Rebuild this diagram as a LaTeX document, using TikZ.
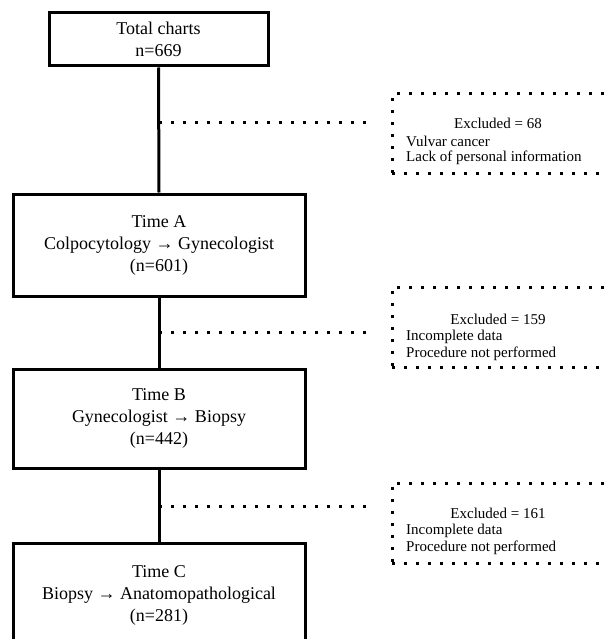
\documentclass[tikz,border=0pt]{standalone}
\usepackage{fontspec}
\setmainfont{Liberation Serif}
\begin{document}
\begin{tikzpicture}[x=1pt,y=-1pt,
  mainbox/.style={draw=black,line width=3pt,minimum width=292pt,align=center,
    font=\fontsize{18}{22}\selectfont,inner sep=0pt},
  link/.style={line width=3pt},
  dotline/.style={line width=3pt,dash pattern=on 3pt off 9pt},
  exbox/.style={draw=black,line width=3pt,dash pattern=on 3pt off 9pt,
    minimum width=240pt,inner sep=0pt},
  exhead/.style={font=\fontsize{15}{18}\selectfont,inner sep=0pt},
  exitem/.style={font=\fontsize{15}{18}\selectfont,inner sep=0pt,anchor=west}]
\useasboundingbox (0,0) rectangle (606,639);
\clip (0,0) rectangle (606,639);

% main boxes
\node[mainbox,minimum width=219pt,minimum height=53pt] (total) at (158.5,39.5) {Total charts\\n=669};
\node[mainbox,minimum height=102pt] (timeA) at (159,245) {Time A\\Colpocytology → Gynecologist\\(n=601)};
\node[mainbox,minimum height=99pt] (timeB) at (159,418.5) {Time B\\Gynecologist → Biopsy\\(n=442)};
\node[mainbox,minimum height=104pt] (timeC) at (159,595) {Time C\\Biopsy → Anatomopathological\\(n=281)};

% vertical connectors
\draw[link] (total.south) -- (timeA.north);
\draw[link] (timeA.south) -- (timeB.north);
\draw[link] (timeB.south) -- (timeC.north);

% dotted side connectors
\coordinate (j1) at (159,123);
\coordinate (e1) at (370,123);
\coordinate (j2) at (159,332);
\coordinate (e2) at (370,332);
\coordinate (j3) at (159,506);
\coordinate (e3) at (370,506);
\draw[dotline] (j1) -- (e1);
\draw[dotline] (j2) -- (e2);
\draw[dotline] (j3) -- (e3);

% excluded boxes
\node[exbox,minimum height=80pt] (ex1) at (512,134) {};
\node[exbox,minimum height=80pt] (ex2) at (512,327) {};
\node[exbox,minimum height=80pt] (ex3) at (512,523) {};

\node[exhead] (ex1h) at (498,123) {Excluded = 68};
\node[exitem] (ex1a) at (406,141) {Vulvar cancer};
\node[exitem] (ex1b) at (406,158) {Lack of personal information};

\node[exhead] (ex2h) at (498,319) {Excluded = 159};
\node[exitem] (ex2a) at (406,337) {Incomplete data};
\node[exitem] (ex2b) at (406,354) {Procedure not performed};

\node[exhead] (ex3h) at (498,513) {Excluded = 161};
\node[exitem] (ex3a) at (406,531) {Incomplete data};
\node[exitem] (ex3b) at (406,548) {Procedure not performed};
\end{tikzpicture}
\end{document}
